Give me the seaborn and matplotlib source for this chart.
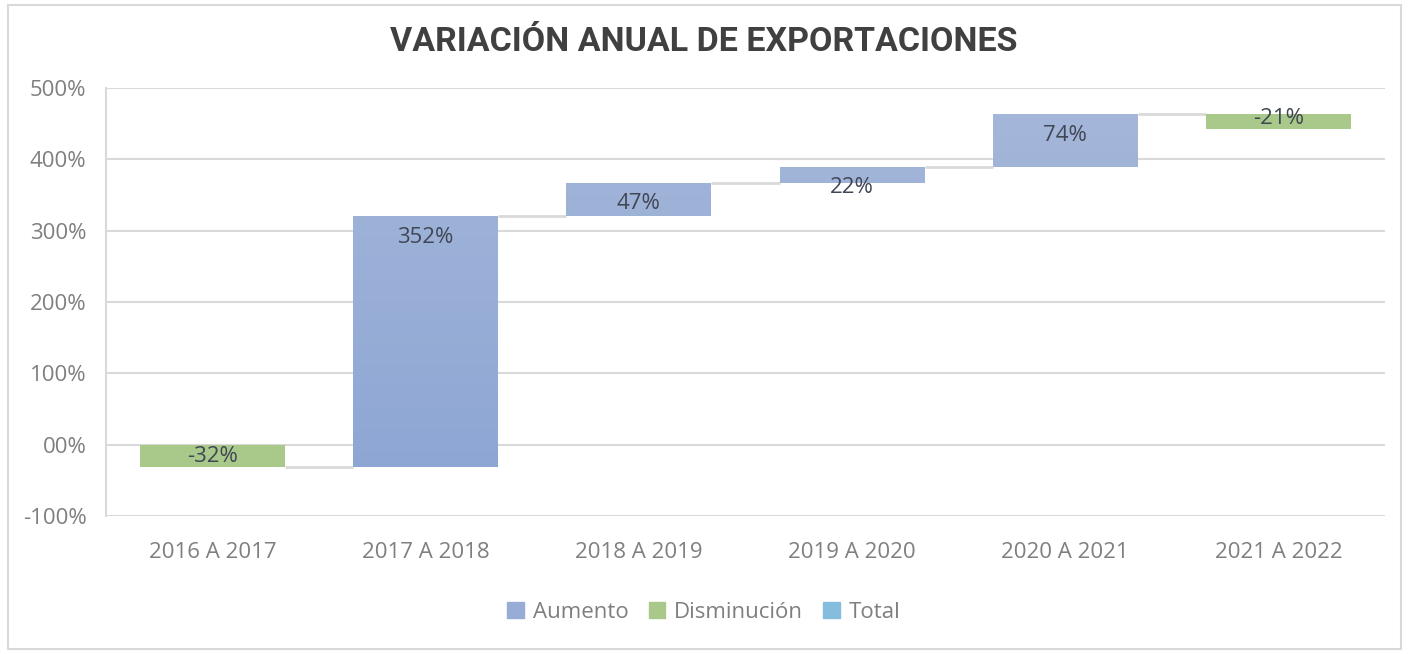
import numpy as np
import pandas as pd
import seaborn as sns
import matplotlib.pyplot as plt
from matplotlib.patches import Patch, Rectangle
from matplotlib.colors import LinearSegmentedColormap

# data
periods = ['2016 A 2017', '2017 A 2018', '2018 A 2019', '2019 A 2020', '2020 A 2021', '2021 A 2022']
changes = [-32, 352, 47, 22, 74, -21]
y_ticks = [-100, 0, 100, 200, 300, 400, 500]
y_tick_labels = ['-100%', '00%', '100%', '200%', '300%', '400%', '500%']

col_up = '#97add6'
col_down = '#a9c98a'
col_total = '#86bcdd'
grid_col = '#d9d9d9'
text_col = '#7f7f7f'

sns.set_theme(style='white')
plt.rcParams['font.family'] = ['Open Sans', 'DejaVu Sans']

df = pd.DataFrame({'period': periods, 'change': changes})
df['end'] = df['change'].cumsum()
df['start'] = df['end'] - df['change']
df['kind'] = np.where(df['change'] >= 0, 'Aumento', 'Disminución')

fig = plt.figure(figsize=(14.08, 6.54), dpi=100)
ax = fig.add_axes([0.0753, 0.211, 0.9083, 0.6545])

bw = 0.68
up = df[df['kind'] == 'Aumento']
down = df[df['kind'] == 'Disminución']
sns.barplot(data=up, x='period', y='change', order=periods, bottom=up['start'].values,
            color=col_up, saturation=1, width=bw, errorbar=None, linewidth=0,
            ax=ax, zorder=3)
n_up = len(ax.patches)
sns.barplot(data=down, x='period', y='change', order=periods, bottom=down['start'].values,
            color=col_down, saturation=1, width=bw, errorbar=None, linewidth=0,
            ax=ax, zorder=3)

ax.set_ylim(-100, 500)
ax.set_xlim(-0.5, len(periods) - 0.5)

# soft vertical gradient on the "Aumento" bars (lighter at the top)
grad = LinearSegmentedColormap.from_list('g', ['#8aa4d3', '#a6b8da'])
for p in ax.patches[:n_up]:
    x0 = p.get_x()
    im = ax.imshow(np.linspace(0, 1, 256).reshape(-1, 1), cmap=grad, origin='lower',
                   aspect='auto', extent=(x0, x0 + p.get_width(), -100, 500),
                   vmin=0, vmax=1, zorder=3.5)
    im.set_clip_path(p)
ax.set_xlim(-0.5, len(periods) - 0.5)
ax.set_ylim(-100, 500)

# connector lines between bars
for i in range(len(df) - 1):
    ax.plot([i + bw / 2, i + 1 - bw / 2], [df['end'][i], df['end'][i]],
            color=grid_col, lw=2, zorder=2, solid_capstyle='butt')

# value labels
for i, row in df.iterrows():
    off = -15 if row['change'] >= 0 else 8
    ax.annotate(f"{row['change']}%", (i, row['end']), xytext=(0, off),
                textcoords='offset points', ha='center', va='center',
                fontsize=16, color='#404654', zorder=5)

ax.set_yticks(y_ticks)
ax.set_yticklabels(y_tick_labels)
ax.yaxis.grid(True, color=grid_col, lw=1.5, zorder=0)
ax.set_axisbelow(True)
ax.tick_params(axis='both', colors=text_col, labelsize=16, length=0)
ax.tick_params(axis='x', pad=19)
ax.tick_params(axis='y', pad=14)
ax.set_xlabel('')
ax.set_ylabel('')
for s in ['top', 'right', 'bottom']:
    ax.spines[s].set_visible(False)
ax.spines['left'].set_color(grid_col)
ax.spines['left'].set_linewidth(1.5)

fig.suptitle('VARIACIÓN ANUAL DE EXPORTACIONES', x=0.5, y=0.96,
             fontsize=24.5, fontweight='bold', color='#404040',
             family=['Liberation Sans Narrow', 'Roboto', 'DejaVu Sans'])

handles = [Patch(color=col_up, label='Aumento'),
           Patch(color=col_down, label='Disminución'),
           Patch(color=col_total, label='Total')]
leg = fig.legend(handles=handles, loc='center', bbox_to_anchor=(0.5, 0.064), ncol=3,
                 frameon=False, fontsize=16, handlelength=0.75, handleheight=0.75,
                 handletextpad=0.4, columnspacing=0.9)
for t in leg.get_texts():
    t.set_color(text_col)

# outer chart border
fig.patches.append(Rectangle((0.006, 0.008), 0.989, 0.984, transform=fig.transFigure,
                             fill=False, edgecolor='#d9d9d9', lw=1.5))

fig.savefig('out.png', dpi=100)
